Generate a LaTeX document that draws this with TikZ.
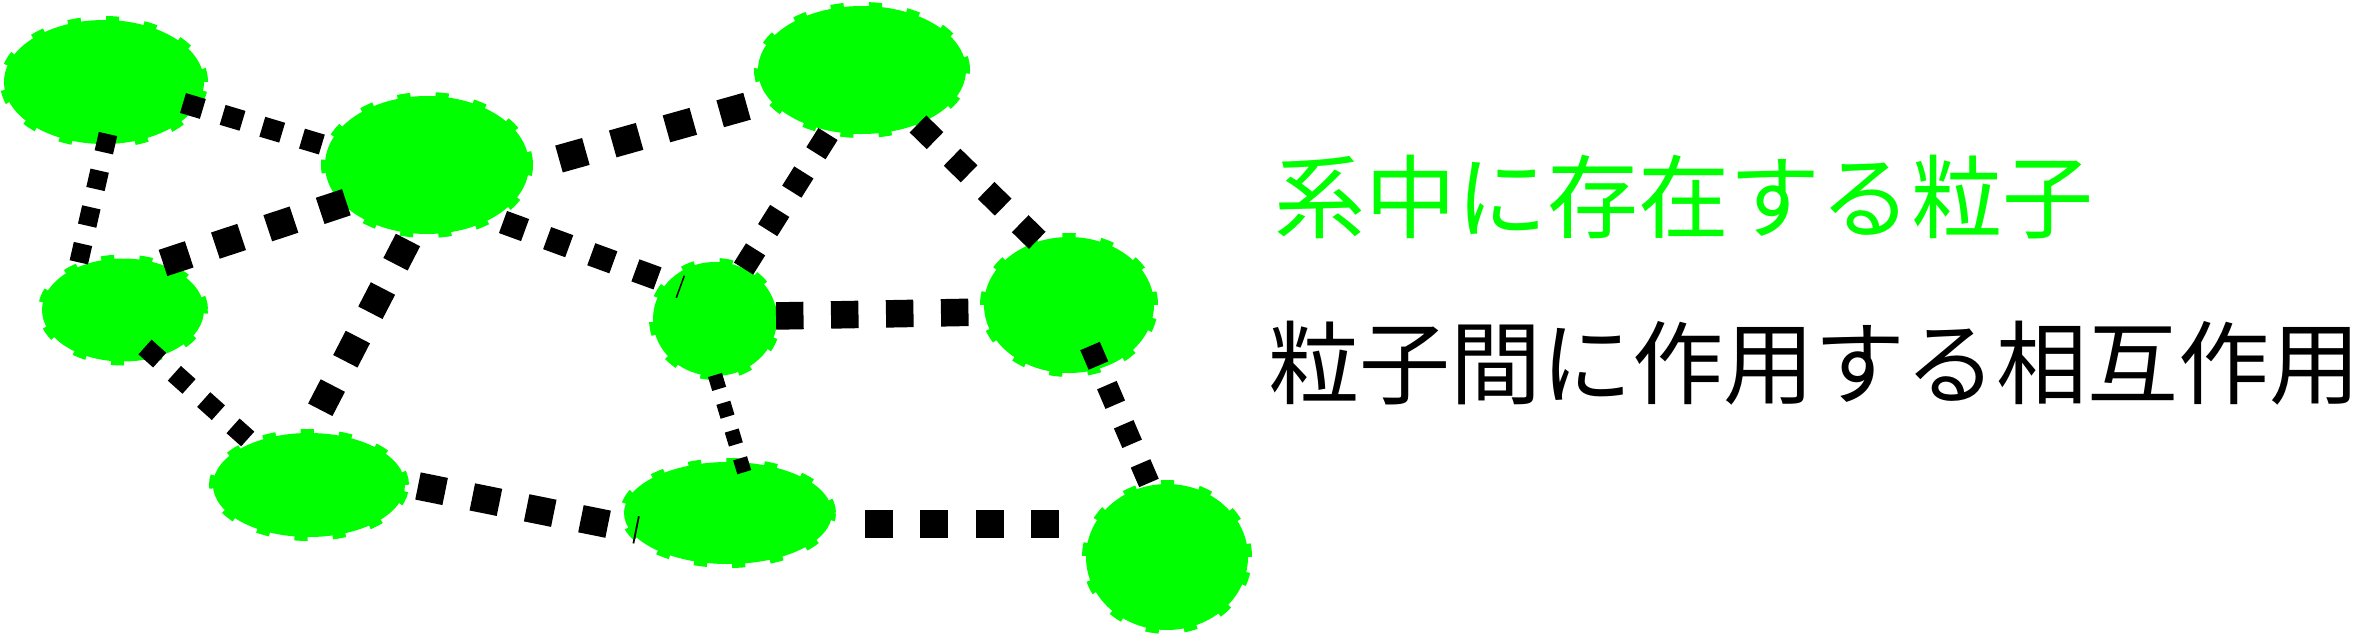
\documentclass[tikz,border=0pt]{standalone}
\usepackage{fontspec}
\newfontfamily\jpfont{Noto Sans CJK JP}
\usetikzlibrary{shapes.geometric,calc}
\definecolor{pgreen}{RGB}{0,255,0}
\begin{document}
\begin{tikzpicture}[x=1pt,y=-1pt,
  particle/.style={ellipse, fill=pgreen, draw=pgreen, line width=8pt,
    dash pattern=on 13pt off 25pt, inner sep=0pt},
  link/.style={draw=black, line width=#1, dash pattern=on #1 off #1},
  lbl/.style={anchor=west, inner sep=0pt, font=\jpfont\fontsize{91}{100}\selectfont}]
\useasboundingbox (0,0) rectangle (2362,635);
% particles
\node[particle, minimum width=200pt, minimum height=124pt] (A) at (104,82) {};
\node[particle, minimum width=204pt, minimum height=138pt] (B) at (427,165) {};
\node[particle, minimum width=208pt, minimum height=128pt] (C) at (862,70) {};
\node[particle, minimum width=162pt, minimum height=103pt] (D) at (123,310) {};
\node[particle, minimum width=124pt, minimum height=114pt] (E) at (715,319) {};
\node[particle, minimum width=170pt, minimum height=136pt] (F) at (1069,305) {};
\node[particle, minimum width=192pt, minimum height=104pt] (G) at (309,485) {};
\node[particle, minimum width=208pt, minimum height=102pt] (H) at (728,513) {};
\node[particle, minimum width=162pt, minimum height=146pt] (I) at (1167,557) {};
% interactions
\draw[link=20.7pt] ($(A)+(79,21)$)  -- ($(B)+(-97,-18)$);
\draw[link=18.8pt] ($(A)+(4,52)$)   -- ($(D)+(-45,-44)$);
\draw[link=27.6pt] ($(D)+(40,-47)$) -- ($(B)+(-77,36)$);
\draw[link=27.3pt] ($(B)+(-19,75)$) -- ($(G)+(6,-65)$);
\draw[link=27.9pt] ($(B)+(132,-6)$) -- ($(C)+(-107,34)$);
\draw[link=23.5pt] ($(B)+(76,57)$)  -- ($(E)+(-34,-32)$);
\draw[link=22.7pt] ($(C)+(-34,64)$) -- ($(E)+(22,-40)$);
\draw[link=23.8pt] ($(C)+(56,54)$)  -- ($(F)+(-29,-62)$);
\draw[link=27.5pt] ($(E)+(61,-3)$)  -- ($(F)+(-84,7)$);
\draw[link=14.5pt] ($(E)+(0,56)$)   -- ($(H)+(18,-35)$);
\draw[link=21.3pt] ($(F)+(21,41)$)  -- ($(I)+(-15,-67)$);
\draw[link=27.7pt] ($(G)+(109,1)$)  -- ($(H)+(-91,17)$);
\draw[link=27.7pt] ($(H)+(137,11)$) -- ($(I)+(-87,-33)$);
\draw[link=19.7pt] ($(D)+(22,37)$)  -- ($(G)+(-59,-44)$);
% labels
\node[lbl, text=pgreen] (t1) at (1274,197) {系中に存在する粒子};
\node[lbl, text=black] (t2) at (1268,363) {粒子間に作用する相互作用};
\end{tikzpicture}
\end{document}
